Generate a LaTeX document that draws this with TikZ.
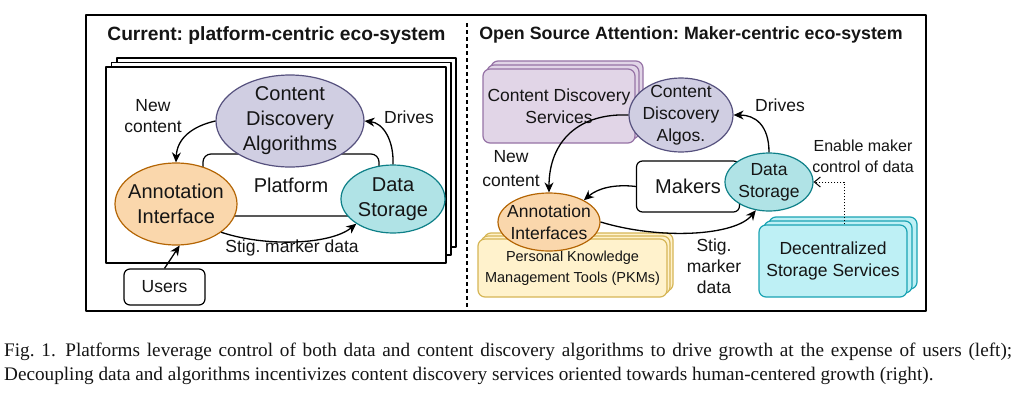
\documentclass[tikz,border=0pt]{standalone}
\usepackage{fontspec}
\setmainfont{Liberation Sans}
\newfontfamily\capfont{Liberation Serif}
\usetikzlibrary{shapes.geometric,arrows.meta}

\definecolor{algofill}{HTML}{D0CEE2}
\definecolor{algoline}{HTML}{56517E}
\definecolor{annofill}{HTML}{FAD7AC}
\definecolor{annoline}{HTML}{B46504}
\definecolor{datafill}{HTML}{B0E3E6}
\definecolor{dataline}{HTML}{0E8088}
\definecolor{svcfill}{HTML}{E1D5E7}
\definecolor{svcline}{HTML}{9673A6}
\definecolor{pkmfill}{HTML}{FFF2CC}
\definecolor{pkmline}{HTML}{D6B656}
\definecolor{decfill}{HTML}{BEF0F5}
\definecolor{decline}{HTML}{1AA3B3}
\definecolor{ink}{HTML}{151515}

\newcommand{\fsz}[2]{\fontsize{#1}{#2}\selectfont}
\frenchspacing

\begin{document}
\begin{tikzpicture}[x=1pt,y=-1pt,line join=round,text=ink,
  title/.style={font=\bfseries\fsz{18}{22},inner sep=0},
  lbl/.style={font=\fsz{17.5}{21},align=center,inner sep=0},
  biglbl/.style={font=\fsz{20}{25},align=center,inner sep=0},
  midlbl/.style={font=\fsz{17.5}{22},align=center,inner sep=0},
  oval/.style={ellipse,draw,line width=1.2pt,inner sep=0},
  algo/.style={oval,fill=algofill,draw=algoline},
  anno/.style={oval,fill=annofill,draw=annoline},
  store/.style={oval,fill=datafill,draw=dataline},
  plainbox/.style={draw,fill=white,rounded corners=7pt,line width=1.2pt},
  svc/.style={plainbox,fill=svcfill,draw=svcline},
  pkm/.style={plainbox,fill=pkmfill,draw=pkmline},
  dec/.style={plainbox,fill=decfill,draw=decline},
  tip/.style={-{Stealth[length=10pt,width=9pt]},line width=1.3pt}]

\fill[white] (0,0) rectangle (1017,405);
\useasboundingbox (0,0) rectangle (1017,405);

\draw[line width=1.5pt] (86,15) rectangle (926,311);
\draw[line width=1.2pt,dash pattern=on 4pt off 3pt] (467,23) -- (467,307);

\node[title,font=\bfseries\fsz{19.2}{22}] (ttl1) at (276.5,36) {Current: platform-centric eco-system};
\node[title,font=\bfseries\fsz{17.8}{22}] (ttl2) at (691,35) {Open Source Attention: Maker-centric eco-system};


% current platform
\begin{scope}
\foreach \k in {2,1,0}
  \draw[fill=white,line width=1.2pt] (106+5.5*\k,67-4.5*\k) rectangle (446+5*\k,263-8*\k);

\node[draw,rounded corners=8pt,line width=1.2pt,minimum width=176pt,minimum height=62pt,
  font=\fsz{20}{25},inner sep=0] (plat) at (291,185) {Platform};

\node[algo,minimum width=148pt,minimum height=92pt,
  label={[biglbl]center:{Content\\Discovery\\Algorithms}}] (cda) at (290,121) {};
\node[anno,minimum width=122pt,minimum height=82pt,
  label={[biglbl]center:{Annotation\\Interface}}] (ai) at (176,204) {};
\node[store,minimum width=104pt,minimum height=68pt,
  label={[biglbl]center:{Data\\Storage}}] (ds) at (393,199) {};

\node[plainbox,rounded corners=6pt,minimum width=81pt,minimum height=36pt,
  font=\fsz{17.5}{21},inner sep=0] (users) at (164.5,287) {Users};

\node[lbl] (newc) at (153,116.5) {New\\content};
\node[lbl] (drv) at (409,117) {Drives};
\node[lbl] (stig) at (292,248) {Stig.\ marker data};

\draw[tip] (cda.west) .. controls (193,126) and (177,138) .. (ai.north);
\draw[tip] (ds.north) .. controls (394,140) and (383,123) .. (cda.east);
\draw[tip] (ai.-32) .. controls (265,247) and (330,245) .. (ds.214);
\draw[tip] (users.north) -- (ai.-85);
\end{scope}


% maker-centric
\begin{scope}
\foreach \k in {2,1}
  \node[svc,minimum width=152pt,minimum height=74pt] at (559+4*\k,106-4*\k) {};
\node[svc,minimum width=152pt,minimum height=74pt,midlbl] (cds) at (559,106)
  {Content Discovery\\Services};

\foreach \k in {2,1}
  \node[pkm,minimum width=189pt,minimum height=58pt] at (572.5+3*\k,268-3*\k) {};
\node[pkm,minimum width=189pt,minimum height=58pt,align=center,inner sep=0,
  font=\fsz{14.5}{21}] (pkms) at (572.5,268)
  {Personal Knowledge\\Management Tools (PKMs)};

\foreach \k in {2,1}
  \node[dec,minimum width=148pt,minimum height=72pt] at (833+5*\k,261-4*\k) {};
\node[dec,minimum width=148pt,minimum height=72pt,midlbl] (dss) at (833,261)
  {Decentralized\\Storage Services};

\node[plainbox,rounded corners=6pt,minimum width=103pt,minimum height=51pt,
  font=\fsz{20}{25},inner sep=0] (makers) at (688,186.5) {Makers};

\node[algo,minimum width=104pt,minimum height=74pt,
  label={[midlbl]center:{Content\\Discovery\\Algos.}}] (cda2) at (681,115) {};
\node[store,minimum width=88pt,minimum height=58pt,
  label={[midlbl]center:{Data\\Storage}}] (ds2) at (769,182) {};
\node[anno,minimum width=102pt,minimum height=58pt,
  label={[midlbl]center:{Annotation\\Interfaces}}] (ai2) at (549,222) {};

\node[font=\fsz{17.5}{24},align=center,inner sep=0] (newc2) at (511,169) {New\\content};
\node[lbl] (drv2) at (780,105) {Drives};
\node[lbl] (stig2) at (714,266) {Stig.\\marker\\data};
\node[font=\fsz{16}{21},align=center,inner sep=0] (ctrl) at (863,156.5)
  {Enable maker\\control of data};

\draw[tip] (cda2.west) .. controls (580,113) and (549,140) .. (ai2.north);
\draw[tip] (makers.west) .. controls (615,184) and (598,188) .. (ai2.32);
\draw[tip] (ai2.east) .. controls (660,240) and (735,236) .. (ds2.245);
\draw[tip] (ds2.north) .. controls (769,125) and (755,115) .. (cda2.east);
\draw[-{Straight Barb[length=6pt,width=10pt]},line width=1pt,dotted]
  ([xshift=11pt]dss.north) |- (ds2.east);
\end{scope}


\node[anchor=north west,align=left,inner sep=0,
  font=\capfont\fsz{19.2}{24}] (cap) at (4,343)
  {\makebox[1008pt][s]{Fig. 1.\enspace Platforms leverage control of both data and content discovery algorithms to drive growth at the expense of users (left);}\\
   Decoupling data and algorithms incentivizes content discovery services oriented towards human-centered growth (right).};

\end{tikzpicture}
\end{document}
